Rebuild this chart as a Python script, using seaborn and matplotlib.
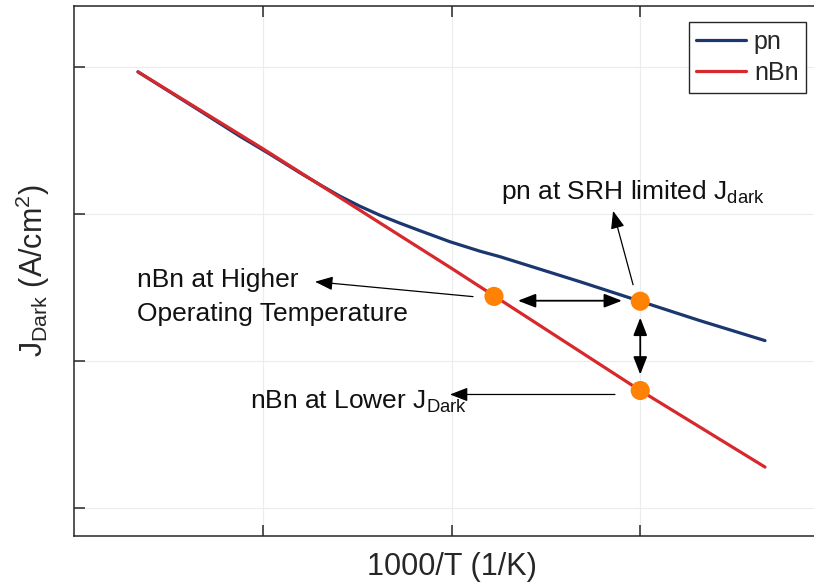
import numpy as np
import pandas as pd
import matplotlib
matplotlib.use("Agg")
import matplotlib.pyplot as plt
import seaborn as sns

# ---- data (log-scale J, x = 1000/T) ----
pn_x = [3.339, 3.668, 3.880, 4.038, 4.197, 4.303, 4.409, 4.515, 4.621, 4.727,
        4.833, 4.992, 5.151, 5.257, 5.469, 5.681, 5.999, 6.317, 6.661]
pn_j = [9.25e-3, 5.02e-3, 3.37e-3, 2.55e-3, 1.905e-3, 1.58e-3, 1.32e-3, 1.128e-3,
        9.80e-4, 8.65e-4, 7.69e-4, 6.47e-4, 5.58e-4, 5.12e-4, 4.21e-4, 3.46e-4,
        2.55e-4, 1.88e-4, 1.376e-4]
nbn_x = [3.339, 4.00, 5.00, 6.00, 6.661]
nbn_j = [9.25e-3, 2.78e-3, 4.27e-4, 6.3e-5, 1.9e-5]
pts_x = [5.225, 6.00, 6.00]
pts_j = [2.75e-4, 2.55e-4, 6.3e-5]
series_names = ["pn", "nBn"]
x_ticks = [4, 5, 6]
y_ticks = [1e-5, 1e-4, 1e-3, 1e-2]

BLUE = "#1b3770"
RED = "#d7282c"
ORANGE = "#ff8205"
DARK = "#262626"

sns.set_theme(style="white")
plt.rcParams["font.family"] = ["Liberation Sans", "DejaVu Sans"]
plt.rcParams["mathtext.fontset"] = "custom"
plt.rcParams["mathtext.rm"] = "Liberation Sans"
plt.rcParams["mathtext.it"] = "Liberation Sans:italic"

df = pd.concat([
    pd.DataFrame({"x": pn_x, "J": pn_j, "device": series_names[0]}),
    pd.DataFrame({"x": nbn_x, "J": nbn_j, "device": series_names[1]}),
])
pts = pd.DataFrame({"x": pts_x, "J": pts_j})

fig = plt.figure(figsize=(8.14, 5.85), dpi=100)
ax = fig.add_axes([74 / 814, 49 / 585, 755 / 814, 530 / 585])
ax.set_yscale("log")

sns.lineplot(data=df, x="x", y="J", hue="device", hue_order=series_names,
             palette=[BLUE, RED], linewidth=2.3, ax=ax, sort=False)
sns.scatterplot(data=pts, x="x", y="J", color=ORANGE, s=190, edgecolor="none",
                ax=ax, zorder=5, legend=False)

ax.set_xlim(3, 7)
ax.set_ylim(10 ** -5.19, 10 ** -1.586)
ax.set_xticks(x_ticks)
ax.set_yticks(y_ticks)
ax.yaxis.set_minor_locator(matplotlib.ticker.NullLocator())
ax.set_xticklabels([])
ax.set_yticklabels([])
ax.tick_params(axis="both", which="major", direction="in", length=8, width=1.1,
               color=DARK, top=True, right=True, left=True, bottom=True)
ax.grid(True, color="#ececec", linewidth=0.8)
for s in ax.spines.values():
    s.set_color(DARK)
    s.set_linewidth(1.1)

ax.set_xlabel("1000/T (1/K)", fontsize=22, color=DARK, labelpad=8)
ax.set_ylabel(r"$\mathrm{J}_{\mathrm{Dark}}$ (A/cm$^{2}$)", fontsize=22, color=DARK, labelpad=12)

leg = ax.legend(loc="upper right", bbox_to_anchor=(806 / 814, 1 - 22 / 585),
                bbox_transform=fig.transFigure, borderaxespad=0, fontsize=18,
                frameon=True, fancybox=False, framealpha=1, edgecolor=DARK,
                handlelength=2.0, handletextpad=0.3, borderpad=0.3,
                labelspacing=0.3, title=None)
leg.get_frame().set_linewidth(1.0)

TXT = dict(fontsize=19, color="#111111")
ax.text(3.334, 3.20e-4, "nBn at Higher", ha="left", va="baseline", **TXT)
ax.text(3.334, 1.88e-4, "Operating Temperature", ha="left", va="baseline", **TXT)
ax.text(3.932, 4.75e-5, r"nBn at Lower $\mathrm{J}_{\mathrm{Dark}}$", ha="left", va="baseline", **TXT)
ax.text(5.262, 1.27e-3, r"pn at SRH limited $\mathrm{J}_{\mathrm{dark}}$", ha="left", va="baseline", **TXT)

single = dict(arrowstyle="-|>,head_length=0.9,head_width=0.35", color="black", lw=0.9,
              shrinkA=0, shrinkB=0)
double = dict(arrowstyle="<|-|>,head_length=0.9,head_width=0.35", color="black", lw=1.3,
              shrinkA=0, shrinkB=0)
ax.annotate("", xy=(4.277, 3.46e-4), xytext=(5.114, 2.74e-4), arrowprops=single)
ax.annotate("", xy=(5.352, 2.57e-4), xytext=(5.903, 2.57e-4), arrowprops=double)
ax.annotate("", xy=(6.0, 1.97e-4), xytext=(6.0, 8.09e-5), arrowprops=double)
ax.annotate("", xy=(5.856, 1.05e-3), xytext=(5.962, 3.30e-4), arrowprops=single)
ax.annotate("", xy=(4.992, 5.92e-5), xytext=(5.866, 5.92e-5), arrowprops=single)

fig.savefig("out.png", dpi=100)
